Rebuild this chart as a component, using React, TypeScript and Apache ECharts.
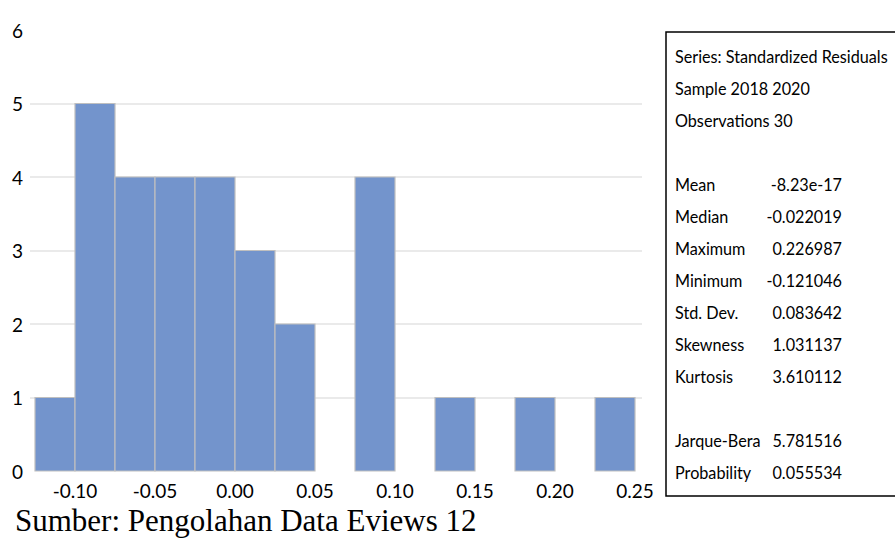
import React, { useEffect, useRef } from "react";
import * as echarts from "echarts";

// Histogram bins (lower edge, upper edge) and counts
const binStarts = [-0.125, -0.1, -0.075, -0.05, -0.025, 0.0, 0.025, 0.05, 0.075, 0.1, 0.125, 0.15, 0.175, 0.2, 0.225];
const binWidth = 0.025;
const counts = [1, 5, 4, 4, 4, 3, 2, 0, 4, 0, 1, 0, 1, 0, 1];

const xTickValues = [-0.1, -0.05, 0.0, 0.05, 0.1, 0.15, 0.2, 0.25];

const headerLines = ["Series: Standardized Residuals", "Sample 2018 2020", "Observations 30"];
const statLabels = ["Mean", "Median", "Maximum", "Minimum", "Std. Dev.", "Skewness", "Kurtosis"];
const statValues = ["-8.23e-17", "-0.022019", "0.226987", "-0.121046", "0.083642", "1.031137", "3.610112"];
const testLabels = ["Jarque-Bera", "Probability"];
const testValues = ["5.781516", "0.055534"];

const caption = "Sumber: Pengolahan Data Eviews 12";

const SANS = "Lato, 'Open Sans', 'Liberation Sans', sans-serif";

export default function App() {
  const ref = useRef<HTMLDivElement>(null);

  useEffect(() => {
    if (!ref.current) return;
    const chart = echarts.init(ref.current, null, { renderer: "svg" });

    const data = binStarts.map((s, i) => [s, s + binWidth, counts[i]]);

    const textStyle = { fontFamily: SANS, fontSize: 18, fill: "#000" };
    const graphics: any[] = [];
    graphics.push({
      type: "rect",
      shape: { x: 666, y: 32, width: 240, height: 464 },
      style: { fill: "#fff", stroke: "#000", lineWidth: 1.5 },
      z: 1,
    });
    const rowY = (i: number) => 56 + i * 32;
    const addText = (t: string, x: number, y: number, align: string) => {
      graphics.push({
        type: "text",
        x,
        y,
        z: 2,
        scaleX: 0.9,
        style: { ...textStyle, text: t, verticalAlign: "middle", align },
      });
    };
    headerLines.forEach((t, i) => addText(t, 675, rowY(i), "left"));
    statLabels.forEach((t, i) => {
      addText(t, 675, rowY(i + 4), "left");
      addText(statValues[i], 842, rowY(i + 4), "right");
    });
    testLabels.forEach((t, i) => {
      addText(t, 675, rowY(i + 12), "left");
      addText(testValues[i], 842, rowY(i + 12), "right");
    });
    graphics.push({
      type: "text",
      x: 15,
      y: 520,
      z: 2,
      style: {
        text: caption,
        fontFamily: "'Liberation Serif', 'Times New Roman', serif",
        fontSize: 31,
        fill: "#000",
        verticalAlign: "middle",
        align: "left",
      },
    });

    chart.setOption({
      animation: false,
      grid: { left: 30, right: 253, top: 30, bottom: 72, containLabel: false },
      xAxis: {
        type: "value",
        min: -0.128125,
        max: 0.254375,
        axisLine: { show: false },
        axisTick: { show: false },
        splitLine: { show: false },
        axisLabel: {
          customValues: xTickValues,
          formatter: (v: number) => v.toFixed(2),
          fontFamily: SANS,
          fontSize: 19,
          color: "#000",
          margin: 10,
        },
      },
      yAxis: {
        type: "value",
        min: 0,
        max: 6,
        interval: 1,
        axisLine: { show: false },
        axisTick: { show: false },
        splitLine: {
          show: true,
          showMinLine: false,
          showMaxLine: false,
          lineStyle: { color: "#e3e3e3", width: 1.5 },
        },
        axisLabel: {
          fontFamily: SANS,
          fontSize: 19,
          color: "#000",
          margin: 7,
        },
      },
      series: [
        {
          type: "custom",
          data,
          renderItem: (params: any, api: any) => {
            const count = api.value(2);
            if (!count) return null;
            const p0 = api.coord([api.value(0), 0]);
            const p1 = api.coord([api.value(1), count]);
            return {
              type: "rect",
              shape: { x: p0[0], y: p1[1], width: p1[0] - p0[0], height: p0[1] - p1[1] },
              style: { fill: "#7394cc", stroke: "#bfbfbf", lineWidth: 1.2 },
            };
          },
        },
      ],
      graphic: graphics,
    });

    return () => chart.dispose();
  }, []);

  return (
    <div
      ref={ref}
      style={{ position: "absolute", left: 0, top: 0, width: 895, height: 543, background: "#fff" }}
    />
  );
}
